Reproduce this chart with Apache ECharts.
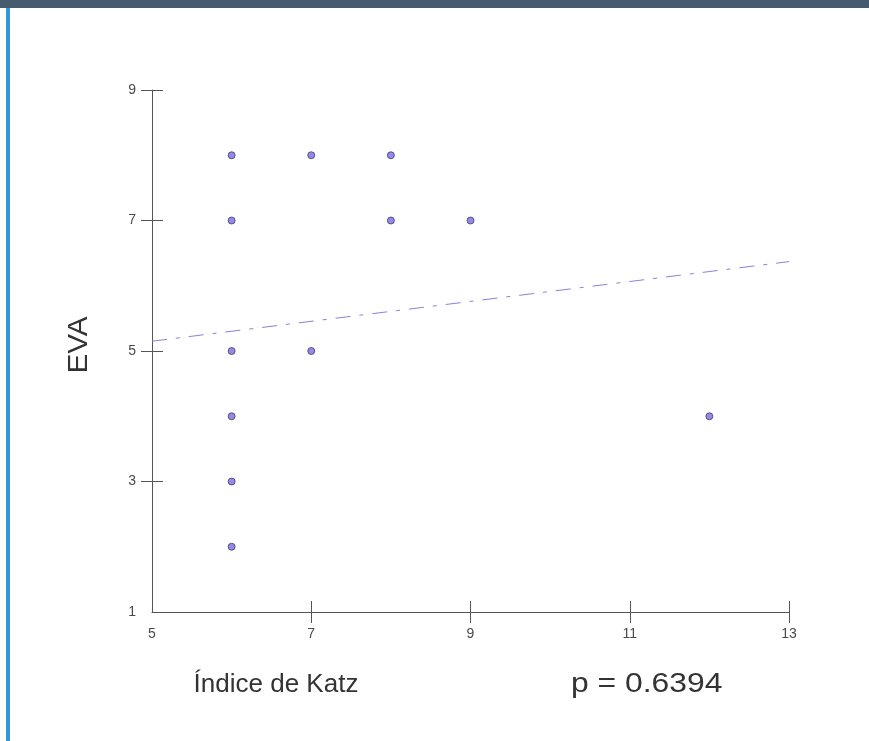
<!DOCTYPE html>
<html>
<head>
<meta charset="utf-8">
<script src="https://cdn.jsdelivr.net/npm/echarts@6/dist/echarts.min.js"></script>
<style>
  html, body { margin: 0; padding: 0; background: #fff; }
  #chart { width: 869px; height: 741px; }
</style>
</head>
<body>
<div id="chart"></div>
<script>
// valores
var katz = [6, 7, 8, 6, 8, 9, 6, 7, 6, 6, 6, 12]
var eva = [8, 8, 8, 7, 7, 7, 5, 5, 4, 3, 2, 4]
var trendX = [5, 13]
var trendY = [5.15, 6.37]
var xTicks = [7, 9, 11, 13]
var yTicks = [3, 5, 7, 9]

var points = katz.map(function (k, i) { return [k, eva[i]] })
var trend = trendX.map(function (t, i) { return [t, trendY[i]] })

var chart = echarts.init(document.getElementById('chart'), null, { renderer: 'canvas' })

var tickStyle = { color: '#555', width: 1 }
var labelStyle = { color: '#4a4a4a', fontSize: 14, fontFamily: 'Arial, Liberation Sans, sans-serif' }
var titleFont = '27px Arial, Liberation Sans, sans-serif'

var option = {
  animation: false,
  backgroundColor: '#fff',
  grid: { left: 152, right: 80, top: 90, bottom: 129 },
  xAxis: [{
    type: 'value', min: 5, max: 13, interval: 2,
    axisLine: { lineStyle: { color: '#555', width: 1 } },
    axisTick: { show: true, length: 11, inside: false, lineStyle: tickStyle, customValues: xTicks },
    axisLabel: Object.assign({ margin: 15 }, labelStyle),
    splitLine: { show: false }
  }, {
    // ticks hacia dentro (cruzan el eje)
    type: 'value', min: 5, max: 13, interval: 2, position: 'bottom',
    axisLine: { show: false },
    axisTick: { show: true, length: 11, inside: true, lineStyle: tickStyle, customValues: xTicks },
    axisLabel: { show: false },
    splitLine: { show: false }
  }],
  yAxis: [{
    type: 'value', min: 1, max: 9, interval: 2,
    axisLine: { show: true, lineStyle: { color: '#555', width: 1 } },
    axisTick: { show: true, length: 11, inside: false, lineStyle: tickStyle, customValues: yTicks },
    axisLabel: Object.assign({ margin: 16 }, labelStyle),
    splitLine: { show: false }
  }, {
    type: 'value', min: 1, max: 9, interval: 2, position: 'left',
    axisLine: { show: false },
    axisTick: { show: true, length: 11, inside: true, lineStyle: tickStyle, customValues: yTicks },
    axisLabel: { show: false },
    splitLine: { show: false }
  }],
  series: [{
    type: 'line',
    data: trend,
    symbol: 'none',
    silent: true,
    lineStyle: { color: '#8a82d6', width: 1, type: [15, 9, 4, 9] }
  }, {
    type: 'scatter',
    data: points,
    symbol: 'circle',
    symbolSize: 7,
    itemStyle: { color: '#7b6ae8', borderColor: '#3f3f5f', borderWidth: 1 }
  }],
  graphic: [
    { type: 'rect', left: 0, top: 0, shape: { width: 869, height: 8 }, style: { fill: '#465b70' } },
    { type: 'rect', left: 6, top: 8, shape: { width: 4, height: 733 }, style: { fill: '#3399d6' } },
    {
      type: 'text', x: 80, y: 345, rotation: Math.PI / 2, scaleX: 1.1,
      style: { text: 'EVA', fill: '#333', font: titleFont, align: 'center', verticalAlign: 'middle' }
    },
    {
      type: 'text', x: 276, y: 685,
      style: { text: 'Índice de Katz', fill: '#333', font: '26px Arial, Liberation Sans, sans-serif', align: 'center', verticalAlign: 'middle' }
    },
    {
      type: 'text', x: 571, y: 685, scaleX: 1.18,
      style: { text: 'p = 0.6394', fill: '#333', font: titleFont, align: 'left', verticalAlign: 'middle' }
    }
  ]
}

chart.setOption(option)
</script>
</body>
</html>
